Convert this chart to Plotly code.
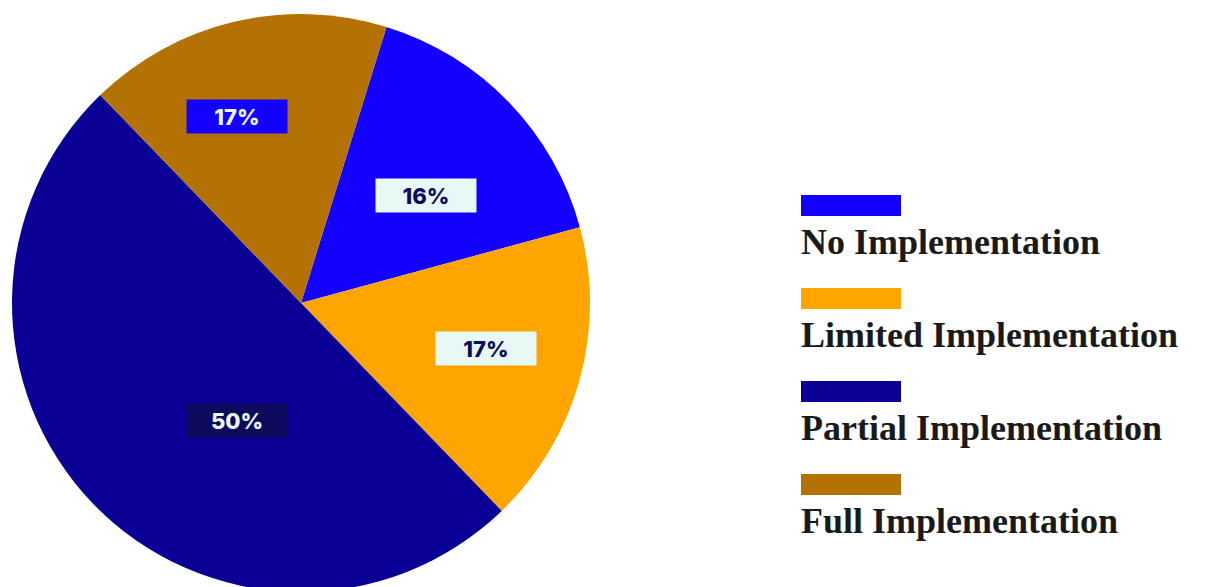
import plotly.graph_objects as go

W, H = 1208, 587
OFF = 8  # page body margin offset

categories = ["No Implementation", "Limited Implementation", "Partial Implementation", "Full Implementation"]
values = [16, 17, 50, 17]
pct_labels = ["16%", "17%", "50%", "17%"]

slice_colors = ["#1400FF", "#FFA500", "#0B0096", "#B57204"]
box_colors = ["#E8F8F4", "#E8F8F4", "#0D0A5E", "#1400FF"]
text_colors = ["#0D0D5E", "#0D0D5E", "#E8F8F4", "#E8F8F4"]
# label box centres (page pixels)
label_px = [(426, 195), (486, 348), (237, 420), (237, 116)]

cx, cy, R = 301, 303, 289

def px(x):
    return min(max((x - OFF) / W, 0), 1)

def py(y):
    return min(max(1 - (y - OFF) / H, 0), 1)

fig = go.Figure(go.Pie(
    labels=categories,
    values=values,
    sort=False,
    direction="clockwise",
    rotation=17.2,
    marker=dict(colors=slice_colors, line=dict(width=0)),
    textinfo="none",
    hoverinfo="label+percent",
    showlegend=False,
    domain=dict(x=[px(cx - R), px(cx + R)], y=[py(cy + R), py(cy - R)]),
))

annotations = []
for (x, y), t, bg, fc in zip(label_px, pct_labels, box_colors, text_colors):
    annotations.append(dict(
        x=px(x), y=py(y), xref="paper", yref="paper",
        text=t, showarrow=False,
        bgcolor=bg, width=100, height=33, borderpad=0,
        font=dict(family="Inter", size=22, color=fc, weight=800),
        xanchor="center", yanchor="middle",
    ))

shapes = []
leg_x, leg_y0, leg_step = 801, 195, 93
for i, (cat, col) in enumerate(zip(categories, slice_colors)):
    top = leg_y0 + i * leg_step
    shapes.append(dict(type="rect", xref="paper", yref="paper",
                       x0=px(leg_x), x1=px(leg_x + 100), y0=py(top + 21), y1=py(top),
                       fillcolor=col, line=dict(width=0)))
    annotations.append(dict(
        x=px(leg_x - 2), y=py(top + 47), xref="paper", yref="paper",
        text="<b>" + cat + "</b>", showarrow=False,
        font=dict(family="Liberation Serif", size=36, color="#1A1A1A"),
        xanchor="left", yanchor="middle",
    ))

fig.update_layout(
    width=W, height=H,
    margin=dict(l=0, r=0, t=0, b=0),
    paper_bgcolor="white", plot_bgcolor="white",
    annotations=annotations, shapes=shapes,
)

fig.write_html("out.html")
